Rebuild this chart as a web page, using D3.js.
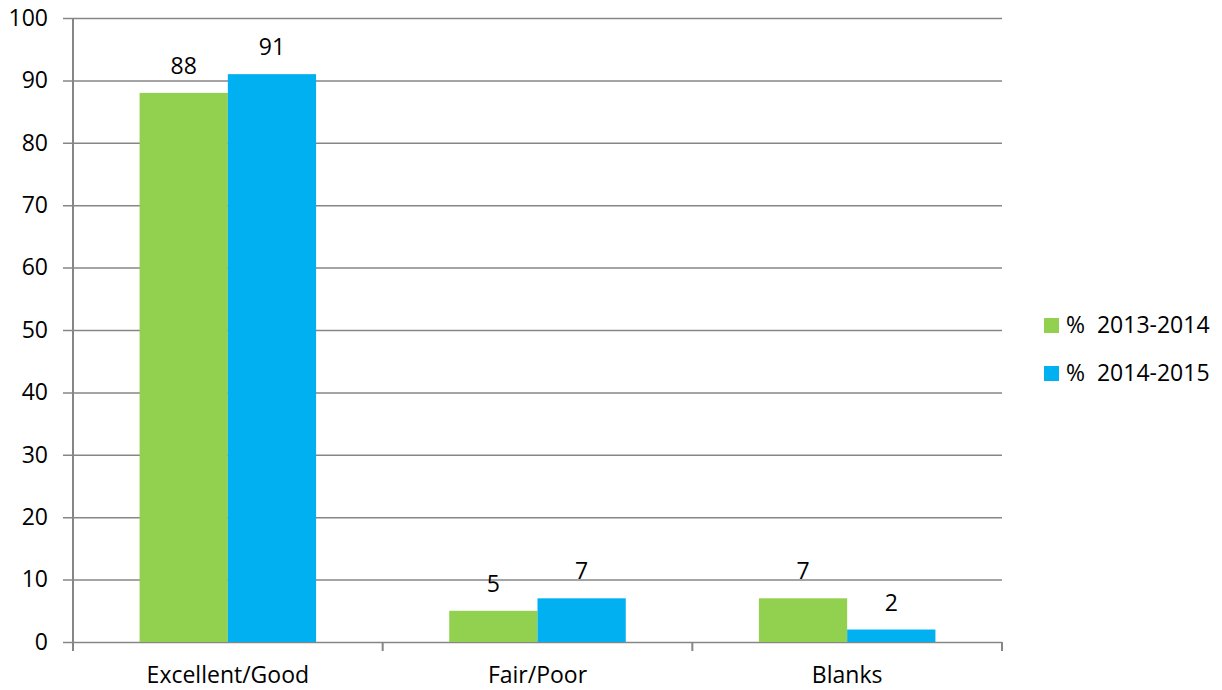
<!DOCTYPE html>
<html>
<head>
<meta charset="utf-8">
<script src="https://cdn.jsdelivr.net/npm/d3@7"></script>
<style>
  html, body { margin: 0; padding: 0; background: #fff; }
  svg { display: block; }
  text { font-family: "Open Sans", "Noto Sans", sans-serif; fill: #000; }
</style>
</head>
<body>
<svg id="chart" width="1222" height="690"></svg>
<script>
// Survey results by rating category, two school years
const categories = ["Excellent/Good", "Fair/Poor", "Blanks"];
const seriesNames = ["%  2013-2014", "%  2014-2015"];
const values2013 = [88, 5, 7];
const values2014 = [91, 7, 2];
const yTicks = [0, 10, 20, 30, 40, 50, 60, 70, 80, 90, 100];
const seriesColors = ["#92D050", "#00B0F0"];

const svg = d3.select("#chart");
const plotLeft = 73, plotRight = 1002, plotTop = 18, plotBottom = 642;
const fontSize = 23;
const gridColor = "#868686";

const x0 = d3.scaleBand()
  .domain(categories)
  .range([plotLeft, plotRight])
  .paddingInner(0.43)
  .paddingOuter(0.215);

const x1 = d3.scaleBand()
  .domain(seriesNames)
  .range([0, x0.bandwidth()]);

const y = d3.scaleLinear().domain([0, 100]).range([plotBottom, plotTop]);

// Gridlines, tick marks and value labels from one axis anchored on the right
const yAxis = d3.axisLeft(y)
  .tickValues(yTicks)
  .tickSize(plotRight - plotLeft + 10)
  .tickPadding(15);

const gy = svg.append("g")
  .attr("transform", `translate(${plotRight},0)`)
  .call(yAxis);
gy.select(".domain").remove();
gy.selectAll(".tick line").attr("stroke", gridColor).attr("stroke-width", 1.5);
gy.selectAll(".tick text")
  .attr("font-size", fontSize)
  .attr("font-family", "'Open Sans', sans-serif")
  .attr("fill", "#000");

// Vertical value axis line
svg.append("line")
  .attr("x1", plotLeft).attr("x2", plotLeft)
  .attr("y1", plotTop).attr("y2", plotBottom + 9)
  .attr("stroke", gridColor).attr("stroke-width", 2);

// Category axis: labels centred on each group
const xAxis = d3.axisBottom(x0).tickSize(0).tickPadding(25);
const gx = svg.append("g")
  .attr("transform", `translate(0,${plotBottom})`)
  .call(xAxis);
gx.select(".domain").remove();
gx.selectAll(".tick text")
  .attr("font-size", fontSize)
  .attr("font-family", "'Open Sans', sans-serif")
  .attr("fill", "#000");

// Boundary tick marks between categories
const boundaries = d3.range(categories.length + 1).map(i => x0.range()[0] + i * x0.step());
svg.append("g").selectAll("line")
  .data(boundaries)
  .join("line")
  .attr("x1", d => d).attr("x2", d => d)
  .attr("y1", plotBottom).attr("y2", plotBottom + 9)
  .attr("stroke", gridColor).attr("stroke-width", 2);

// Bars
const rows = categories.map((c, i) => ({
  category: c,
  values: [
    { series: seriesNames[0], value: values2013[i], color: seriesColors[0] },
    { series: seriesNames[1], value: values2014[i], color: seriesColors[1] }
  ]
}));

const groups = svg.append("g").selectAll("g")
  .data(rows)
  .join("g")
  .attr("transform", d => `translate(${x0(d.category)},0)`);

groups.selectAll("rect")
  .data(d => d.values)
  .join("rect")
  .attr("x", d => x1(d.series))
  .attr("y", d => y(d.value))
  .attr("width", x1.bandwidth())
  .attr("height", d => y(0) - y(d.value))
  .attr("fill", d => d.color);

groups.selectAll("text.value")
  .data(d => d.values)
  .join("text")
  .attr("class", "value")
  .attr("x", d => x1(d.series) + x1.bandwidth() / 2)
  .attr("y", d => y(d.value) - 19)
  .attr("text-anchor", "middle")
  .attr("font-size", fontSize)
  .text(d => d.value);

// Legend
const legend = svg.append("g").selectAll("g")
  .data(seriesNames.map((s, i) => ({ name: s, color: seriesColors[i] })))
  .join("g")
  .attr("transform", (d, i) => `translate(1044,${318 + i * 48})`);

legend.append("rect")
  .attr("width", 15).attr("height", 15)
  .attr("fill", d => d.color);

legend.append("text")
  .attr("x", 22)
  .attr("y", 15)
  .attr("font-size", fontSize)
  .style("white-space", "pre")
  .text(d => d.name);
</script>
</body>
</html>
